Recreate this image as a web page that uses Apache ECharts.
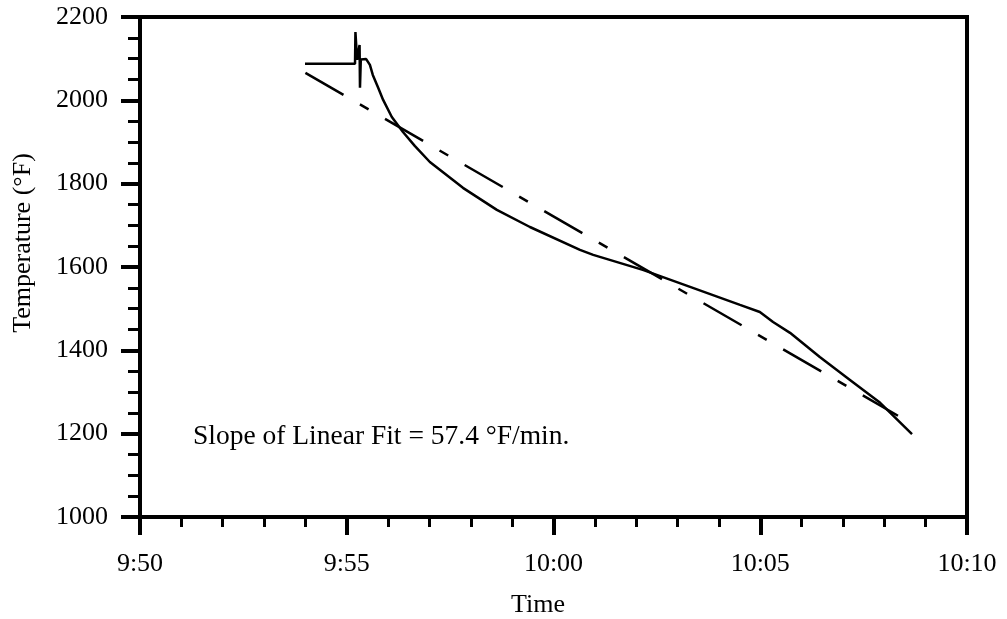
<!DOCTYPE html>
<html>
<head>
<meta charset="utf-8">
<script src="https://cdn.jsdelivr.net/npm/echarts@6/dist/echarts.min.js"></script>
<style>html,body{margin:0;padding:0;background:#fff;}#c{width:1007px;height:619px;}</style>
</head>
<body>
<div id="c"></div>
<script>
// minutes after 9:50
var measuredMin  = [3.99, 5.20, 5.21, 5.25, 5.31, 5.32, 5.34, 5.37, 5.47, 5.56, 5.63, 5.76, 5.88, 6.09, 6.36, 6.65, 7.01, 7.81, 8.63, 9.43, 10.64, 10.96, 12.16, 13.37, 14.51, 14.99, 15.31, 15.72, 16.44, 17.17, 17.90, 18.67];
var measuredTemp = [2088, 2088, 2164, 2097, 2133, 2030, 2098, 2102, 2099, 2085, 2061, 2030, 2001, 1960, 1924, 1890, 1852, 1790, 1737, 1696, 1641, 1629, 1593, 1550, 1509, 1492, 1468, 1442, 1384, 1329, 1274, 1199];
var fitMin  = [4.0, 18.33];
var fitTemp = [2066, 1243];
var xTicks = [0, 5, 10, 15, 20];
var yTicks = [1000, 1200, 1400, 1600, 1800, 2000, 2200];
var annotation = 'Slope of Linear Fit = 57.4 \u00B0F/min.';

function pairs(xs, ys) { return xs.map(function (x, i) { return [x, ys[i]]; }); }
function fmtTime(v) {
  var t = 590 + Math.round(v);
  var h = Math.floor(t / 60), m = t % 60;
  return h + ':' + (m < 10 ? '0' + m : m);
}
var font = 'Liberation Serif';
var chart = echarts.init(document.getElementById('c'), null, {renderer: 'canvas'});
chart.setOption({
  animation: false,
  backgroundColor: '#fff',
  grid: {left: 140, right: 40, top: 17, bottom: 102, containLabel: false, outerBoundsMode: 'none',
         show: true, borderColor: '#000', borderWidth: 4, backgroundColor: 'transparent'},
  xAxis: {
    type: 'value', min: xTicks[0], max: xTicks[xTicks.length - 1], interval: 5,
    name: 'Time', nameLocation: 'middle', nameGap: 75,
    nameTextStyle: {fontFamily: font, fontSize: 26, color: '#000', padding: [0, 31, 0, 0]},
    axisLine: {onZero: false, lineStyle: {color: '#000', width: 4}},
    axisTick: {length: 18, lineStyle: {color: '#000', width: 4}},
    minorTick: {show: true, splitNumber: 5, length: 10, lineStyle: {color: '#000', width: 3}},
    axisLabel: {margin: 34, fontFamily: font, fontSize: 26, color: '#000', formatter: fmtTime, showMinLabel: true, showMaxLabel: true},
    splitLine: {show: false}
  },
  yAxis: {
    type: 'value', min: yTicks[0], max: yTicks[yTicks.length - 1], interval: 200,
    name: 'Temperature (\u00B0F)', nameLocation: 'middle', nameGap: 104,
    nameTextStyle: {fontFamily: font, fontSize: 26, color: '#000', padding: [0, 0, 0, 48]},
    axisLine: {onZero: false, lineStyle: {color: '#000', width: 4}},
    axisTick: {length: 19, lineStyle: {color: '#000', width: 4}},
    minorTick: {show: true, splitNumber: 4, length: 12, lineStyle: {color: '#000', width: 3}},
    axisLabel: {margin: 32, fontFamily: font, fontSize: 26, color: '#000', showMinLabel: true, showMaxLabel: true,
                formatter: function (v) { return String(v); }},
    splitLine: {show: false}
  },
  series: [
    {type: 'line', data: pairs(measuredMin, measuredTemp), symbol: 'none', smooth: false,
     lineStyle: {color: '#000', width: 2.5}},
    {type: 'line', data: pairs(fitMin, fitTemp), symbol: 'none',
     lineStyle: {color: '#000', width: 2.5, type: [44, 19, 10, 19]}}
  ],
  graphic: [
    {type: 'text', left: 193, top: 423, style: {text: annotation, fontFamily: font, fontSize: 27.5, fill: '#000'}}
  ]
});
</script>
</body>
</html>
